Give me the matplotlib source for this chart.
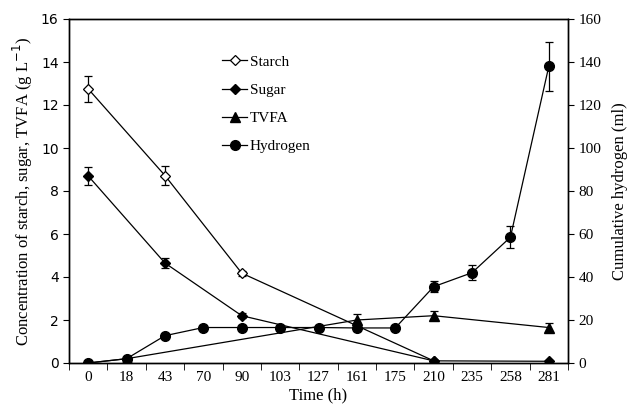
import numpy as np
import matplotlib
matplotlib.use("Agg")
import matplotlib.pyplot as plt
from matplotlib.lines import Line2D

matplotlib.rcParams.update({
    "font.family": "Liberation Serif",
    "font.size": 11,
    "axes.linewidth": 1.0,
})

# ── data ──
time_labels = ["0", "18", "43", "70", "90", "103", "127", "161", "175",
               "210", "235", "258", "281"]

starch_idx = [0, 2, 4, 9]
starch = [12.75, 8.72, 4.18, 0.1]
starch_err = [0.6, 0.45, 0.12, 0.05]

sugar_idx = [0, 2, 4, 9, 12]
sugar = [8.7, 4.65, 2.2, 0.1, 0.08]
sugar_err = [0.4, 0.25, 0.12, 0.05, 0.05]

tvfa_idx = [0, 1, 7, 9, 12]
tvfa = [0.0, 0.2, 2.0, 2.2, 1.65]
tvfa_err = [0.0, 0.05, 0.26, 0.2, 0.2]

h2_idx = list(range(13))
h2 = [0, 2, 12.7, 16.5, 16.5, 16.5, 16.5, 16.3, 16.3, 35.5, 42, 58.5, 138]
h2_err = [0, 0.5, 1, 1, 1, 1, 1, 1.5, 1, 2.7, 3.5, 5, 11.4]


fig = plt.figure(figsize=(6.32, 4.17), dpi=100)
ax = fig.add_axes([69 / 632, 54 / 417, 499 / 632, 344 / 417])
ax2 = ax.twinx()

line_kw = dict(color="black", lw=0.9, capsize=3, elinewidth=0.9, capthick=0.9)
styles = {
    "Starch": dict(marker="D", ms=5.5, mfc="white", mec="black", mew=0.9),
    "Sugar": dict(marker="D", ms=5.5, mfc="black", mec="black"),
    "TVFA": dict(marker="^", ms=7, mfc="black", mec="black"),
    "Hydrogen": dict(marker="o", ms=7, mfc="black", mec="black"),
}

ax.errorbar(starch_idx, starch, yerr=starch_err, zorder=3,
            **styles["Starch"], **line_kw)
ax.errorbar(sugar_idx, sugar, yerr=sugar_err, zorder=3,
            **styles["Sugar"], **line_kw)
ax.errorbar(tvfa_idx, tvfa, yerr=tvfa_err, zorder=3,
            **styles["TVFA"], **line_kw)
ax2.errorbar(h2_idx, h2, yerr=h2_err, zorder=3,
             **styles["Hydrogen"], **line_kw)

ax.set_xlim(-0.5, len(time_labels) - 0.5)
ax.set_ylim(0, 16)
ax2.set_ylim(0, 160)

ax.set_yticks(np.arange(0, 17, 2))
ax2.set_yticks(np.arange(0, 161, 20))
for lab in ax.get_yticklabels():
    lab.set_fontfamily("DejaVu Sans")
    lab.set_fontsize(10)
ax2.tick_params(axis="y", labelsize=11, direction="out", length=4)
ax.tick_params(axis="y", direction="out", length=4)

# category axis: labels centred, ticks on boundaries
ax.set_xticks(np.arange(len(time_labels)))
ax.set_xticklabels(time_labels)
ax.set_xticks(np.arange(-0.5, len(time_labels)), minor=True)
ax.tick_params(axis="x", which="major", length=0, pad=6, labelsize=11)
ax.tick_params(axis="x", which="minor", length=5, direction="out")

ax.set_xlabel("Time (h)", fontsize=12, labelpad=2)
ax.set_ylabel("Concentration of starch, sugar, TVFA (g L$^{-1}$)",
              fontsize=12, labelpad=4)
ax2.set_ylabel("Cumulative hydrogen (ml)", fontsize=12, labelpad=8)

handles = [Line2D([0], [0], color="black", lw=0.9, **st) for st in styles.values()]
ax.legend(handles, list(styles.keys()), loc="upper left",
          bbox_to_anchor=(0.28, 0.935), frameon=False, fontsize=11,
          handlelength=1.6, handletextpad=0.2, labelspacing=0.95)

fig.savefig("out.png", dpi=100, facecolor="white")
